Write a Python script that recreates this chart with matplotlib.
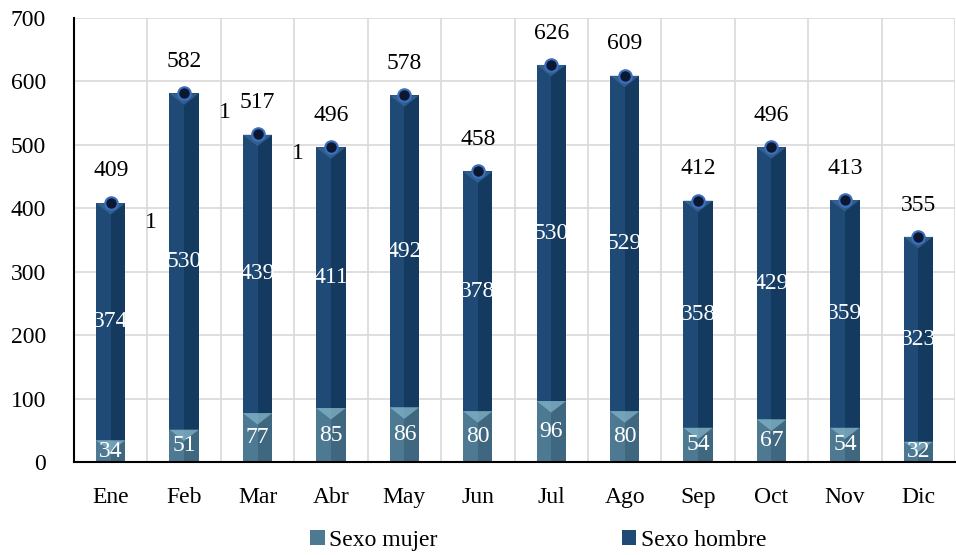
import numpy as np
import matplotlib.pyplot as plt
from matplotlib.patches import Polygon, Rectangle

meses = ['Ene', 'Feb', 'Mar', 'Abr', 'May', 'Jun', 'Jul', 'Ago', 'Sep', 'Oct', 'Nov', 'Dic']
mujer = [34, 51, 77, 85, 86, 80, 96, 80, 54, 67, 54, 32]
hombre = [374, 530, 439, 411, 492, 378, 530, 529, 358, 429, 359, 323]
sin_dato = [1, 1, 1, 0, 0, 0, 0, 0, 0, 0, 0, 0]
total = [409, 582, 517, 496, 578, 458, 626, 609, 412, 496, 413, 355]

plt.rcParams['font.family'] = ['Liberation Serif', 'DejaVu Serif']
fs = 17

fig = plt.figure(figsize=(9.56, 5.55), dpi=100)
ax = fig.add_axes([0.0774, 0.1676, 0.9216, 0.800])

x = np.arange(len(meses))
w = 0.4
c_muj, c_muj_d, c_muj_l = '#4d7a92', '#3f6880', '#86b6cc'
c_hom, c_hom_d, c_hom_l = '#1f4a75', '#153a60', '#3a6a9a'

b1 = ax.bar(x, mujer, w, color=c_muj, label='Sexo mujer', zorder=2)
b2 = ax.bar(x, hombre, w, bottom=mujer, color=c_hom, label='Sexo hombre', zorder=2)

# darker right half + bevel chevron on top of each segment
for i in range(len(x)):
    ax.add_patch(Rectangle((x[i], 0), w / 2, mujer[i], color=c_muj_d, zorder=2.1, lw=0))
    ax.add_patch(Rectangle((x[i], mujer[i]), w / 2, hombre[i], color=c_hom_d, zorder=2.1, lw=0))
    for base, h, cl in [(0, mujer[i], c_muj_l), (mujer[i], hombre[i], c_hom_l)]:
        top = base + h
        d = min(18, h * 0.5)
        ax.add_patch(Polygon([(x[i] - w / 2, top), (x[i] + w / 2, top), (x[i], top - d)],
                             closed=True, color=cl, alpha=0.7, zorder=2.2, lw=0))

ax.plot(x, total, 'o', ms=9, mfc='#0c1730', mec='#3b6fc2', mew=1.5, ls='none', zorder=4)

for i in range(len(x)):
    ax.text(x[i], mujer[i] / 2, str(mujer[i]), color='white', ha='center', va='center',
            fontsize=fs, zorder=5)
    ax.text(x[i], mujer[i] + hombre[i] / 2, str(hombre[i]), color='white', ha='center',
            va='center', fontsize=fs, zorder=5)
    ax.text(x[i], total[i] + 50, str(total[i]), color='black', ha='center', va='center',
            fontsize=fs, zorder=5)
    if sin_dato[i]:
        ax.text(x[i] + 0.55, total[i] - 31, str(sin_dato[i]), color='black', ha='center',
                va='center', fontsize=fs, zorder=5)

ax.set_xlim(-0.5, len(x) - 0.5)
ax.set_ylim(0, 700)
ax.set_yticks(range(0, 701, 100))
ax.set_xticks(x)
ax.set_xticklabels(meses)
ax.set_xticks(np.arange(-0.5, len(x), 1), minor=True)
ax.tick_params(axis='both', length=0, labelsize=fs)
ax.tick_params(axis='x', pad=18)
ax.tick_params(axis='y', pad=20)
ax.tick_params(which='minor', length=0)
ax.grid(True, axis='y', color='#d9d9d9', lw=1.2, zorder=0)
ax.grid(True, axis='x', which='minor', color='#d9d9d9', lw=1.2, zorder=0)
ax.spines['top'].set_visible(False)
ax.spines['right'].set_visible(False)
ax.spines['left'].set_linewidth(1.5)
ax.spines['bottom'].set_linewidth(1.5)

leg = ax.legend(handles=[b1, b2], loc='center', bbox_to_anchor=(0.527, -0.176), ncol=2,
                frameon=False, fontsize=fs, handlelength=0.6, handleheight=0.6,
                handletextpad=0.2, columnspacing=7.8, borderpad=0)

fig.savefig('out.png', dpi=100)
